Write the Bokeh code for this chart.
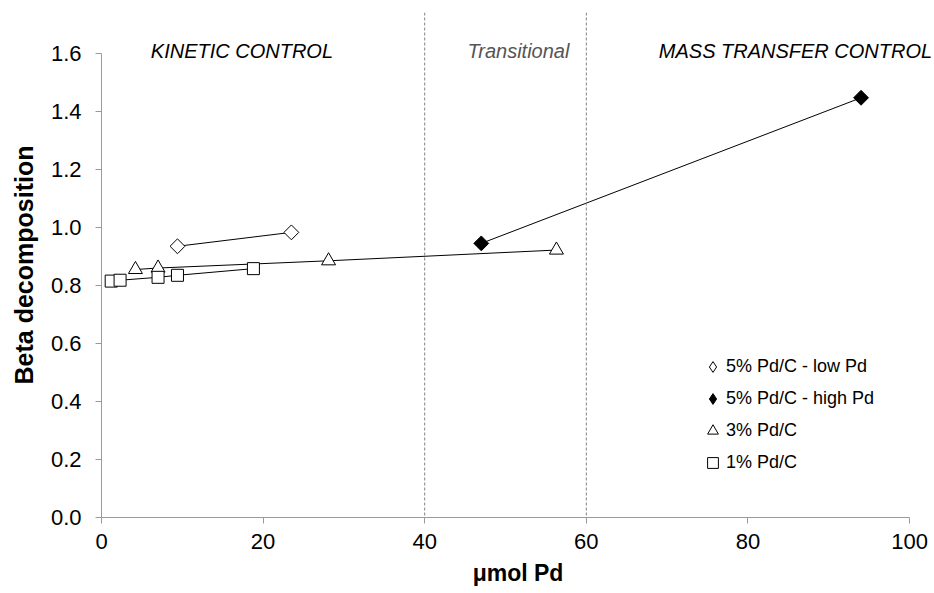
from bokeh.plotting import figure
from bokeh.models import (Range1d, Span, Label, Legend, LegendItem, FixedTicker,
                          CustomJSTickFormatter)
from bokeh.embed import file_html
from bokeh.resources import INLINE
import math

# ---- data ----
low_x = [9.4, 23.5]
low_y = [0.935, 0.983]
high_x = [47.0, 94.0]
high_y = [0.945, 1.447]
tri_x = [4.2, 7.0, 28.1, 56.3]
tri_y = [0.855, 0.86, 0.885, 0.922]
sq_x = [1.2, 2.3, 7.0, 9.4, 18.8]
sq_y = [0.815, 0.818, 0.828, 0.835, 0.858]
series_names = ["5% Pd/C - low Pd", "5% Pd/C - high Pd", "3% Pd/C", "1% Pd/C"]
region_labels = ["KINETIC CONTROL", "Transitional", "MASS TRANSFER CONTROL"]
region_x = [6.1, 51.6, 102.8]
region_align = ["left", "center", "right"]
boundaries = [40, 60]
x_ticks = [0, 20, 40, 60, 80, 100]
y_ticks = [0.0, 0.2, 0.4, 0.6, 0.8, 1.0, 1.2, 1.4, 1.6]

FONT = "Liberation Sans"

# frame runs to the right edge of the page so the top-right label is not cut;
# the x axis itself is bounded to 0..100
p = figure(width=934, height=593, output_backend="svg", toolbar_location=None,
           x_range=Range1d(0, 103.09), y_range=Range1d(0, 1.741),
           min_border_left=101, min_border_right=0, min_border_top=12, min_border_bottom=76)
p.outline_line_color = None
p.grid.visible = False
p.background_fill_color = "white"

for ax in (p.xaxis[0], p.yaxis[0]):
    ax.axis_line_color = "#9a9a9a"
    ax.major_tick_line_color = "#9a9a9a"
    ax.minor_tick_line_color = None
    ax.major_tick_out = 6
    ax.major_tick_in = 0
    ax.major_label_text_font = FONT
    ax.major_label_text_font_size = "22px"
    ax.major_label_text_color = "black"
    ax.axis_label_text_font = FONT
    ax.axis_label_text_font_style = "bold"
    ax.axis_label_text_color = "black"

p.xaxis.axis_label_text_font_size = "23px"
p.yaxis.axis_label_text_font_size = "25px"
p.xaxis.ticker = FixedTicker(ticks=x_ticks)
p.yaxis.ticker = FixedTicker(ticks=y_ticks)
p.yaxis.formatter = CustomJSTickFormatter(code="return tick.toFixed(1);")
p.yaxis.bounds = (0, 1.6)
p.xaxis.bounds = (0, 100)
p.xaxis.axis_label = "\u03bcmol Pd"
p.yaxis.axis_label = "Beta decomposition"
p.xaxis.major_label_standoff = 10
p.yaxis.major_label_standoff = 14
p.xaxis.axis_label_standoff = 8
p.yaxis.axis_label_standoff = 10

for b in boundaries:
    p.add_layout(Span(location=b, dimension="height", line_color="#808080",
                      line_dash="3 2", line_width=1))

# connecting lines
for xs, ys in ((low_x, low_y), (high_x, high_y), (tri_x, tri_y), (sq_x, sq_y)):
    p.line(xs, ys, line_color="black", line_width=1)

# markers (diamonds drawn as squares turned by 45 degrees)
r1 = p.scatter(low_x, low_y, marker="square", size=10.5, angle=math.pi / 4,
               fill_color="white", line_color="black", line_width=1)
r2 = p.scatter(high_x, high_y, marker="square", size=10.5, angle=math.pi / 4,
               fill_color="black", line_color="black", line_width=1)
r3 = p.scatter(tri_x, tri_y, marker="triangle", size=14,
               fill_color="white", line_color="black", line_width=1)
r4 = p.scatter(sq_x, sq_y, marker="square", size=12,
               fill_color="white", line_color="black", line_width=1)

# legend symbols for the diamond series (the legend ignores marker angle);
# zero-size markers on the same points, so only the legend shows them
l1 = p.scatter(low_x, low_y, marker="diamond", size=0,
               fill_color="white", line_color="black", line_width=1)
l2 = p.scatter(high_x, high_y, marker="diamond", size=0,
               fill_color="black", line_color="black", line_width=1)

legend = Legend(items=[LegendItem(label=n, renderers=[r]) for n, r in
                       zip(series_names, [l1, l2, r3, r4])],
                location=(598, 41), orientation="vertical")
legend.label_text_font = FONT
legend.label_text_font_size = "18px"
legend.label_text_color = "black"
legend.glyph_width = 27
legend.glyph_height = 27
legend.label_height = 27
legend.spacing = 5
legend.label_standoff = 0
legend.padding = 0
legend.margin = 0
legend.border_line_color = None
legend.background_fill_alpha = 0
p.add_layout(legend)

colors = ["black", "#555555", "black"]
for t, x, c, a in zip(region_labels, region_x, colors, region_align):
    p.add_layout(Label(x=x, y=1.608, text=t, text_font=FONT, text_font_size="20px",
                       text_font_style="italic", text_color=c,
                       text_align=a, text_baseline="middle"))

open("out.html", "w").write(file_html(p, INLINE))
